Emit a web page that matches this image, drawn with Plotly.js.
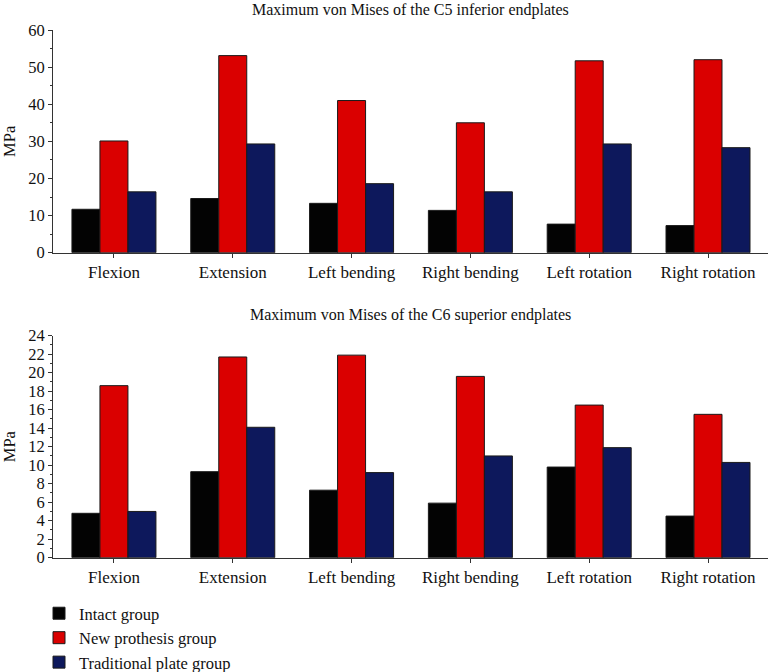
<!DOCTYPE html>
<html>
<head>
<meta charset="utf-8">
<script src="https://cdn.plot.ly/plotly-3.0.1.min.js"></script>
<style>html,body{margin:0;padding:0;background:#fff;}#chart{width:769px;height:672px;}</style>
</head>
<body>
<div id="chart"></div>
<script>
const categories = ["Flexion", "Extension", "Left bending", "Right bending", "Left rotation", "Right rotation"];
const seriesNames = ["Intact group", "New prothesis group", "Traditional plate group"];
const c5Intact = [11.7, 14.6, 13.3, 11.4, 7.7, 7.3];
const c5NewProthesis = [30.1, 53.1, 41.0, 35.0, 51.7, 52.0];
const c5Traditional = [16.4, 29.3, 18.6, 16.4, 29.3, 28.3];
const c6Intact = [4.8, 9.3, 7.3, 5.9, 9.8, 4.5];
const c6NewProthesis = [18.6, 21.7, 21.9, 19.6, 16.5, 15.5];
const c6Traditional = [5.0, 14.1, 9.2, 11.0, 11.9, 10.3];
const topTitle = "Maximum von Mises of the C5 inferior endplates";
const bottomTitle = "Maximum von Mises of the C6 superior endplates";
const yLabel = "MPa";

const colors = ["#030303", "#DA0000", "#0D185C"];
const FONT = "'Liberation Serif', 'Times New Roman', serif";

function bar(y, i, xa, ya, show) {
  return {
    type: "bar", x: categories, y: y, name: seriesNames[i],
    xaxis: xa, yaxis: ya, showlegend: show,
    marker: {color: colors[i], line: {color: "#1a1a1a", width: 1}},
    hoverinfo: "y"
  };
}
const data = [
  bar(c5Intact, 0, "x", "y", true),
  bar(c5NewProthesis, 1, "x", "y", true),
  bar(c5Traditional, 2, "x", "y", true),
  bar(c6Intact, 0, "x2", "y2", false),
  bar(c6NewProthesis, 1, "x2", "y2", false),
  bar(c6Traditional, 2, "x2", "y2", false)
];

const xDom = [53/769, 768/769];
function xaxis(anchor) {
  return {
    domain: xDom, anchor: anchor, type: "category", range: [-0.513, 5.505],
    showline: true, linecolor: "#333", linewidth: 1,
    ticks: "outside", ticklen: 4, tickcolor: "#333", tickwidth: 1,
    tickfont: {family: FONT, size: 17, color: "#111"},
    showgrid: false, zeroline: false, fixedrange: true
  };
}
function yaxis(anchor, dom, max, dtick, minorDtick) {
  return {
    domain: dom, anchor: anchor, range: [0, max], dtick: dtick,
    showline: true, linecolor: "#333", linewidth: 1,
    ticks: "outside", ticklen: 4, tickcolor: "#333", tickwidth: 1,
    minor: {dtick: minorDtick, ticks: "outside", ticklen: 2.5, tickcolor: "#333", showgrid: false},
    tickfont: {family: FONT, size: 16.5, color: "#111"},
    title: {text: yLabel, font: {family: FONT, size: 16.5, color: "#111"}, standoff: 8},
    showgrid: false, zeroline: false, fixedrange: true
  };
}

const layout = {
  width: 769, height: 672,
  margin: {l: 0, r: 0, t: 0, b: 0, autoexpand: false},
  paper_bgcolor: "#fff", plot_bgcolor: "#fff",
  barmode: "group", bargap: 0.293, bargroupgap: 0,
  font: {family: FONT, color: "#111"},
  xaxis: xaxis("y"),
  yaxis: yaxis("x", [1 - 252.7/672, 1 - 30/672], 60, 10, 5),
  xaxis2: xaxis("y2"),
  yaxis2: yaxis("x2", [1 - 557.7/672, 1 - 335.7/672], 24, 2, 1),
  showlegend: true,
  legend: {
    x: 39/769, y: -8/672, xanchor: "left", yanchor: "bottom",
    orientation: "v", traceorder: "normal",
    font: {family: FONT, size: 16.5, color: "#111"},
    bgcolor: "rgba(0,0,0,0)"
  },
  annotations: [
    {text: topTitle, xref: "paper", yref: "paper", x: 410.5/769, y: 1 - 10/672,
     xanchor: "center", yanchor: "middle", showarrow: false,
     font: {family: FONT, size: 16, color: "#111"}},
    {text: bottomTitle, xref: "paper", yref: "paper", x: 410.5/769, y: 1 - 315/672,
     xanchor: "center", yanchor: "middle", showarrow: false,
     font: {family: FONT, size: 16, color: "#111"}}
  ]
};

Plotly.newPlot("chart", data, layout, {displayModeBar: false, staticPlot: true});
</script>
</body>
</html>
